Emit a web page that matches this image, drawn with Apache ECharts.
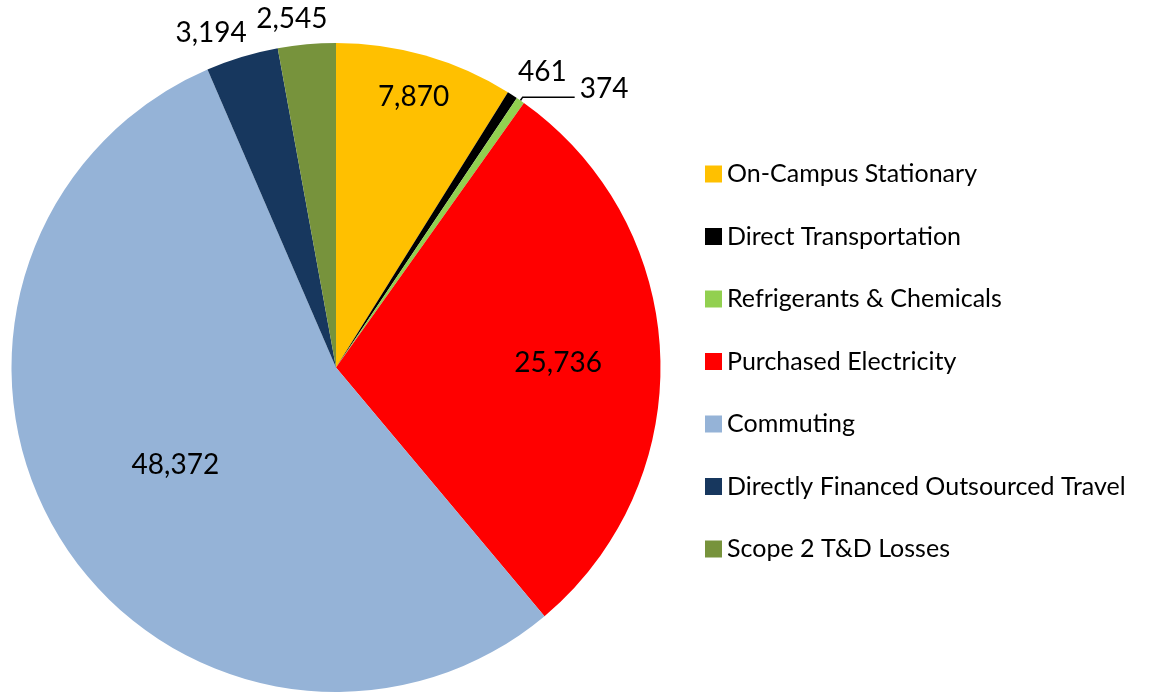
<!DOCTYPE html>
<html>
<head>
<meta charset="utf-8">
<title>Emissions by source</title>
<script src="https://cdn.jsdelivr.net/npm/echarts@6/dist/echarts.min.js"></script>
<style>
  html, body { margin: 0; padding: 0; background: #fff; }
  #main { width: 1161px; height: 693px; }
</style>
</head>
<body>
<div id="main"></div>
<script>
// 数据
var categories = [
  "On-Campus Stationary",
  "Direct Transportation",
  "Refrigerants & Chemicals",
  "Purchased Electricity",
  "Commuting",
  "Directly Financed Outsourced Travel",
  "Scope 2 T&D Losses"
];
var values = [7870, 461, 374, 25736, 48372, 3194, 2545];
var colors = ["#FFC000", "#000000", "#92D050", "#FF0000", "#95B3D7", "#17375E", "#77933C"];

// 标签位置微调 (像素偏移)
var labelShift = {
  0: { dx: 32, dy: -112 },
  1: { dx: -13, dy: -2 },
  2: { dx: 0, dy: -8 },
  3: { dx: 57, dy: 2 },
  4: { dx: -20, dy: 11 },
  5: { dx: 17, dy: 0 },
  6: { dx: 28, dy: 0 }
};

var fontName = "Lato, 'Open Sans', sans-serif";

var pieData = [];
for (let i = 0; i < categories.length; i++) {
  let item = {
    name: categories[i],
    value: values[i],
    itemStyle: { color: colors[i] }
  };
  if (i == 0 || i == 3 || i == 4) {
    // 内部标签
    item.label = { position: "inside" };
    item.labelLine = { show: false };
  } else if (i == 2) {
    // 带引导线的外部标签
    item.label = { position: "outside" };
    item.labelLine = { show: true, length: 4, length2: 52 };
  } else {
    item.label = { position: "outside" };
    item.labelLine = { show: false, length: 25, length2: 0 };
  }
  pieData.push(item);
}

var myChart = echarts.init(document.getElementById("main"));
var option = {
  backgroundColor: "#fff",
  animation: false,
  textStyle: { fontFamily: fontName },
  legend: {
    orient: "vertical",
    left: 700,
    top: 156,
    icon: "rect",
    itemWidth: 17,
    itemHeight: 17,
    itemGap: 36.5,
    data: categories,
    textStyle: {
      color: "#000",
      fontSize: 25,
      lineHeight: 26,
      fontFamily: fontName
    }
  },
  series: [
    {
      type: "pie",
      center: [336, 367.5],
      radius: [0, 324.5],
      startAngle: 90,
      clockwise: true,
      avoidLabelOverlap: false,
      itemStyle: { borderWidth: 0 },
      label: {
        color: "#000",
        fontSize: 28,
        fontFamily: fontName,
        distanceToLabelLine: 5,
        formatter: function(p) {
          return p.value.toLocaleString("en-US");
        }
      },
      labelLine: {
        lineStyle: { color: "#000", width: 1.5 }
      },
      labelLayout: function(params) {
        return labelShift[params.dataIndex];
      },
      emphasis: { disabled: true },
      data: pieData
    }
  ]
};
myChart.setOption(option);
</script>
</body>
</html>
